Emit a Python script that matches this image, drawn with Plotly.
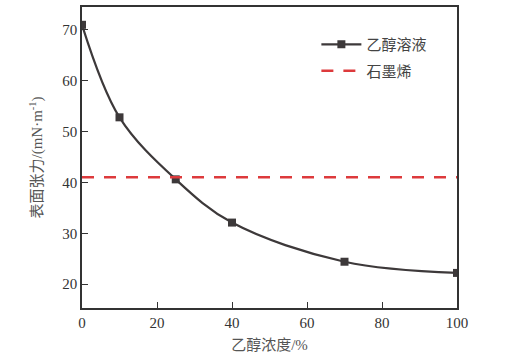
import plotly.graph_objects as go

conc = [0, 10, 25, 40, 70, 100]
tension = [71.0, 52.8, 40.6, 32.1, 24.4, 22.2]
graphene_level = 41.0
series_names = ["乙醇溶液", "石墨烯"]
x_ticks = [0, 20, 40, 60, 80, 100]
y_ticks = [20, 30, 40, 50, 60, 70]

fig = go.Figure()
fig.add_trace(go.Scatter(
    x=conc, y=tension, mode="lines+markers", name=series_names[0], legendgroup="a",
    line=dict(color="#3d393a", width=2.2, shape="spline", smoothing=1.0),
    marker=dict(symbol="square", size=8, color="#3d393a"),
    cliponaxis=True,
))
fig.add_trace(go.Scatter(
    x=[0, 100], y=[graphene_level, graphene_level], mode="lines", name=series_names[1], legendgroup="b",
    line=dict(color="#dd3a3c", width=2.5, dash="12px,10px"),
))

font_family = "Liberation Serif, Noto Sans CJK SC, serif"
fig.update_layout(
    width=509, height=361,
    margin=dict(l=82, r=52, t=7, b=53, autoexpand=False),
    paper_bgcolor="white", plot_bgcolor="white",
    font=dict(family=font_family, color="#333", size=14),
    showlegend=True,
    legend=dict(x=0.625, y=0.93, xanchor="left", yanchor="top",
                bgcolor="rgba(0,0,0,0)", font=dict(size=15, color="#444"),
                itemwidth=40, tracegroupgap=4),
)
fig.update_xaxes(
    range=[0, 100], tickvals=x_ticks, ticks="inside", ticklen=6, tickcolor="#333",
    showline=True, linecolor="#333", linewidth=1.5, mirror=True, showgrid=False,
    zeroline=False, automargin=False,
    title=dict(text="乙醇浓度/%", font=dict(size=15, color="#555"), standoff=10),
    tickfont=dict(size=15, color="#333"),
)
fig.update_yaxes(
    range=[15.3, 74.5], tickvals=y_ticks, ticks="inside", ticklen=6, tickcolor="#333",
    showline=True, linecolor="#333", linewidth=1.5, mirror=True, showgrid=False,
    zeroline=False, automargin=False,
    title=dict(text="表面张力/(mN·m<sup>-1</sup>)", font=dict(size=15, color="#555"), standoff=16),
    tickfont=dict(size=15, color="#333"),
)
fig.write_html("out.html", config={"displayModeBar": False},
               post_script="document.body.style.margin='0';")
